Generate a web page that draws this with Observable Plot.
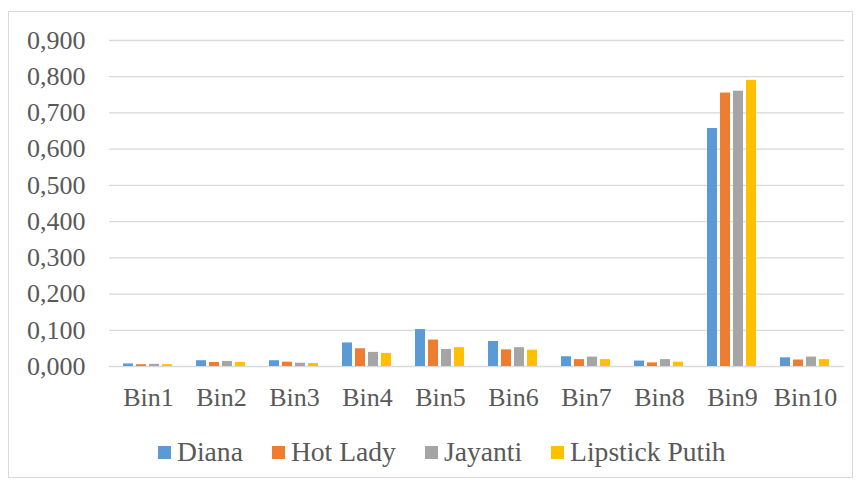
<!DOCTYPE html>
<html>
<head>
<meta charset="utf-8">
<script src="https://cdn.jsdelivr.net/npm/d3@7"></script>
<script src="https://cdn.jsdelivr.net/npm/@observablehq/plot@0.6"></script>
<style>
  html, body { margin: 0; padding: 0; background: #fff; }
  #wrap { position: absolute; left: 8px; top: 11px; width: 845px; height: 467px; box-sizing: border-box; border: 1px solid #d9d9d9; background: #fff; }
  .layer { position: absolute; left: 0; top: 0; }
  #legend { position: absolute; left: 149px; top: 425px; height: 30px; display: flex; align-items: center; font-family: "Liberation Serif", "Times New Roman", serif; font-size: 27.6px; color: #595959; white-space: nowrap; }
  .item { display: flex; align-items: center; margin-right: 29px; }
  .sw { width: 13px; height: 13px; margin-right: 6px; }
</style>
</head>
<body>
<div id="wrap"><div id="grid" class="layer"></div><div id="bars" class="layer"></div><div id="legend"></div></div>
<script>
const bins = ["Bin1","Bin2","Bin3","Bin4","Bin5","Bin6","Bin7","Bin8","Bin9","Bin10"];
const seriesNames = ["Diana","Hot Lady","Jayanti","Lipstick Putih"];
const colors = ["#5b9bd5","#ed7d31","#a5a5a5","#ffc000"];
const diana    = [0.007, 0.016, 0.016, 0.065, 0.102, 0.069, 0.027, 0.015, 0.657, 0.024];
const hotLady  = [0.005, 0.011, 0.012, 0.049, 0.073, 0.046, 0.019, 0.010, 0.755, 0.018];
const jayanti  = [0.006, 0.014, 0.009, 0.039, 0.047, 0.052, 0.026, 0.019, 0.760, 0.026];
const lipstick = [0.005, 0.011, 0.008, 0.036, 0.052, 0.045, 0.019, 0.012, 0.790, 0.019];
const yTicks = [0, 0.1, 0.2, 0.3, 0.4, 0.5, 0.6, 0.7, 0.8, 0.9];

const allSeries = [diana, hotLady, jayanti, lipstick];
const data = [];
bins.forEach((b, i) => seriesNames.forEach((s, j) => data.push({bin: b, series: s, value: allSeries[j][i]})));

const fmt = d => d.toFixed(3).replace(".", ",");

const common = {
  width: 843,
  height: 410,
  marginLeft: 100,
  marginRight: 8,
  marginTop: 28,
  marginBottom: 56,
  style: { fontFamily: "'Liberation Serif', 'Times New Roman', serif", fontSize: "26px", color: "#595959", background: "transparent" }
};

// Layer 1: y axis and horizontal gridlines across the whole plot area
const gridPlot = Plot.plot({
  ...common,
  x: { domain: bins, axis: null },
  y: { domain: [0, 0.9], ticks: yTicks, tickFormat: fmt, tickSize: 0, tickPadding: 24, label: null },
  marks: [
    Plot.ruleY(yTicks, { stroke: "#d9d9d9", strokeWidth: 1.3 })
  ]
});
document.getElementById("grid").appendChild(gridPlot);

// Layer 2: clustered bars, faceted by bin
const barPlot = Plot.plot({
  ...common,
  fx: { domain: bins, paddingInner: 0.32, paddingOuter: 0.16, label: null, tickSize: 0, tickPadding: 21 },
  x: { domain: seriesNames, paddingInner: 0.21, paddingOuter: 0, axis: null },
  y: { domain: [0, 0.9], axis: null },
  color: { domain: seriesNames, range: colors },
  marks: [
    Plot.barY(data, { fx: "bin", x: "series", y: "value", fill: "series" })
  ]
});
document.getElementById("bars").appendChild(barPlot);

const legend = document.getElementById("legend");
seriesNames.forEach((s, i) => {
  const item = document.createElement("div");
  item.className = "item";
  const sw = document.createElement("div");
  sw.className = "sw";
  sw.style.background = colors[i];
  const t = document.createElement("span");
  t.textContent = s;
  item.appendChild(sw); item.appendChild(t);
  legend.appendChild(item);
});
</script>
</body>
</html>
